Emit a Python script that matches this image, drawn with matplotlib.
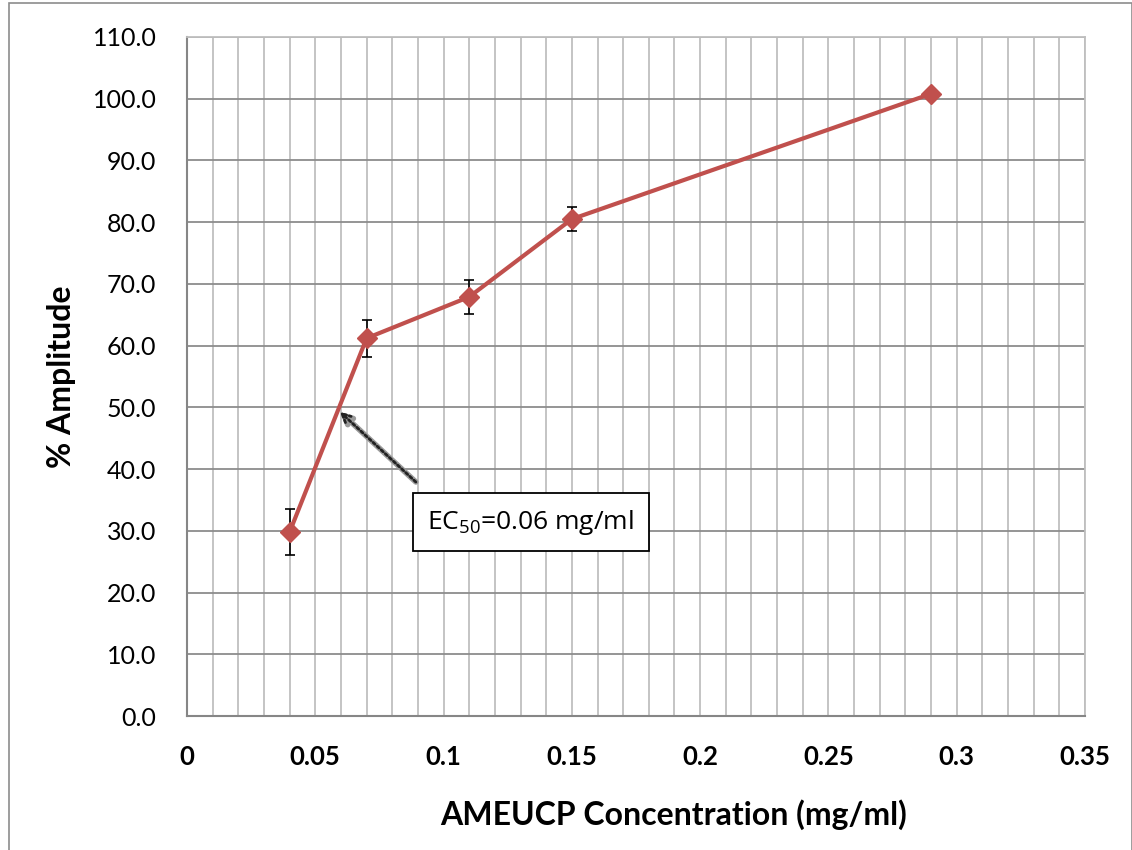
import matplotlib
matplotlib.use("Agg")
import matplotlib.pyplot as plt
from matplotlib.ticker import MultipleLocator, FormatStrFormatter
from matplotlib.patches import Rectangle

# Data
conc = [0.04, 0.07, 0.11, 0.15, 0.29]
amplitude = [29.8, 61.2, 67.9, 80.5, 100.8]
err = [3.7, 3.0, 2.8, 2.0, 0.0]
x_ticks = [0, 0.05, 0.1, 0.15, 0.2, 0.25, 0.3, 0.35]
x_tick_labels = ["0", "0.05", "0.1", "0.15", "0.2", "0.25", "0.3", "0.35"]
ec50_x, ec50_y = 0.0588, 49.6
arrow_tail = (0.0900, 37.6)

W, H = 1132, 850
fig = plt.figure(figsize=(W / 100, H / 100), dpi=100)
ax = fig.add_axes([187 / W, 1 - 716 / H, (1085 - 187) / W, (716 - 37) / H])

ax.set_xlim(0, 0.35)
ax.set_ylim(0, 110)
ax.set_xticks(x_ticks)
ax.set_xticklabels(x_tick_labels)
ax.xaxis.set_minor_locator(MultipleLocator(0.01))
ax.yaxis.set_major_locator(MultipleLocator(10))
ax.yaxis.set_major_formatter(FormatStrFormatter("%.1f"))

ax.grid(which="minor", axis="x", color="#BFBFBF", lw=1.3)
ax.grid(which="major", axis="x", color="#BFBFBF", lw=1.3)
ax.grid(which="major", axis="y", color="#8C8C8C", lw=1.3)
ax.set_axisbelow(True)
ax.tick_params(which="both", length=0)
ax.tick_params(axis="y", pad=22)
ax.tick_params(axis="x", pad=21)
for lab in ax.get_yticklabels():
    lab.set_fontfamily("Lato")
    lab.set_fontsize(18)
for lab in ax.get_xticklabels():
    lab.set_fontfamily("Lato")
    lab.set_fontweight("bold")
    lab.set_fontsize(18.5)

for side in ["left", "bottom"]:
    ax.spines[side].set_color("#868686")
    ax.spines[side].set_linewidth(1.5)
for side in ["top", "right"]:
    ax.spines[side].set_color("#BFBFBF")
    ax.spines[side].set_linewidth(1.3)

ax.errorbar(conc, amplitude, yerr=err, fmt="none", ecolor="black",
            elinewidth=1.2, capsize=3.5, capthick=1.2, zorder=3)
ax.plot(conc, amplitude, color="#C0504D", lw=3, marker="D", ms=10,
        mfc="#C0504D", mec="#C0504D", zorder=4)

# hatched-looking arrow: grey body with black dotted overlay
ax.annotate("", xy=(ec50_x, ec50_y), xytext=arrow_tail,
            arrowprops=dict(arrowstyle="->,head_length=0.6,head_width=0.3",
                            color="#9A9A9A", lw=4), zorder=5)
ax.annotate("", xy=(ec50_x, ec50_y), xytext=arrow_tail,
            arrowprops=dict(arrowstyle="->,head_length=0.6,head_width=0.3",
                            color="#222222", lw=2, linestyle=(0, (1, 1))),
            zorder=5)

ax.text(0.134, 31.4, r"EC$_{\mathregular{50}}$=0.06 mg/ml", fontsize=19,
        fontfamily="Open Sans", ha="center", va="center", zorder=6,
        bbox=dict(boxstyle="square,pad=0.55", fc="white", ec="black", lw=1.3))

ax.set_xlabel("AMEUCP Concentration (mg/ml)", fontfamily="Lato",
              fontweight="bold", fontsize=23)
ax.xaxis.set_label_coords((674 - 187) / 898, -(815 - 716) / 679)
ax.xaxis.label.set_va("center")
ax.set_ylabel("% Amplitude", fontfamily="Lato", fontweight="bold",
              fontsize=23)
ax.yaxis.set_label_coords(-(187 - 61) / 898, 0.5)
ax.yaxis.label.set_va("center")

fig.patches.append(Rectangle((9 / W, -0.01), (W - 9) / W, 1 - 3 / H + 0.01,
                             transform=fig.transFigure, fill=False,
                             ec="#8C8C8C", lw=1.2))

fig.savefig("out.png", dpi=100)
